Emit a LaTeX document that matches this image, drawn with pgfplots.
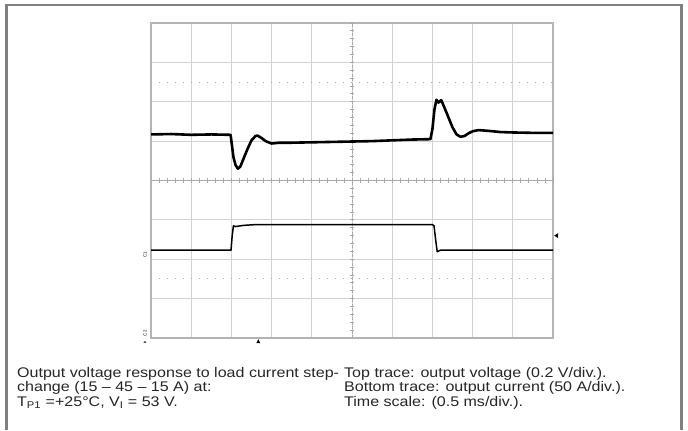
\documentclass[border=0pt]{standalone}
\usepackage{pgfplots}
\pgfplotsset{compat=1.18}
\usepackage{fontspec}
\setmainfont{Liberation Sans}
\newfontfamily\capfont[FakeStretch=1.15]{Liberation Sans}

\definecolor{framec}{HTML}{808080}
\definecolor{gridc}{HTML}{D2D2D2}
\definecolor{axisc}{HTML}{B4B4B4}
\definecolor{centc}{HTML}{A8A8A8}

% scope screenshot, in divisions: 10 x 8
\pgfplotstableread{
x y
0.00 5.17
0.50 5.18
1.00 5.16
1.50 5.17
1.98 5.16
2.00 5.00
2.05 4.60
2.10 4.40
2.16 4.30
2.22 4.35
2.30 4.55
2.40 4.80
2.50 5.02
2.60 5.13
2.65 5.14
2.75 5.08
2.85 5.00
3.00 4.94
3.20 4.96
3.50 4.96
4.00 4.97
4.50 4.98
5.00 4.99
5.50 5.00
6.00 5.02
6.50 5.04
6.95 5.05
7.00 5.30
7.05 5.80
7.10 6.05
7.15 5.98
7.22 6.04
7.30 5.85
7.40 5.60
7.50 5.35
7.60 5.17
7.70 5.11
7.80 5.13
7.90 5.20
8.00 5.25
8.15 5.28
8.40 5.26
8.70 5.23
9.00 5.22
9.50 5.21
10.00 5.21
}\voltage

\pgfplotstableread{
x y
0.00 2.23
1.99 2.23
2.02 2.60
2.05 2.85
2.10 2.83
2.30 2.86
2.60 2.88
5.00 2.88
7.00 2.88
7.04 2.85
7.08 2.50
7.12 2.19
7.20 2.23
10.00 2.23
}\current

\begin{document}
\begin{tikzpicture}[x=1bp,y=1bp]
\useasboundingbox (0,0) rectangle (688,430);
\fill[white] (0,0) rectangle (688,430);
\draw[framec, line width=2.5bp] (6.5,0) -- (6.5,425) -- (681.5,425) -- (681.5,0);

\begin{axis}[
  at={(151bp,92bp)}, anchor=origin,
  scale only axis, width=402bp, height=315bp,
  xmin=0, xmax=10, ymin=0, ymax=8,
  xtick={0,...,10}, ytick={0,...,8},
  xticklabels={}, yticklabels={},
  major tick length=0,
  grid=major, major grid style={gridc, line width=0.8bp},
  axis line style={axisc, line width=1.3bp},
  clip=false,
]
% 20/80 % markers and centre graticule
\draw[gridc!80!black, line width=0.9bp, dash pattern=on 1bp off 7bp] (axis cs:0.2,1.5) -- (axis cs:10,1.5);
\draw[gridc!80!black, line width=0.9bp, dash pattern=on 1bp off 7bp] (axis cs:0.2,6.5) -- (axis cs:10,6.5);
\draw[centc, line width=0.8bp] (axis cs:0,4) -- (axis cs:10,4);
\draw[centc, line width=0.8bp, dash pattern=on 3bp off 1.5bp] (axis cs:5,0) -- (axis cs:5,8);
\pgfplotsinvokeforeach{0.2,0.4,...,9.9}{
  \draw[centc, line width=0.8bp] (axis cs:#1,3.94) -- (axis cs:#1,4.06);
}
\pgfplotsinvokeforeach{0.2,0.4,...,7.9}{
  \draw[centc, line width=0.8bp] (axis cs:4.94,#1) -- (axis cs:5.06,#1);
}

\addplot[black, line width=2.6bp, line join=round] table[x=x, y=y] {\voltage};
\addplot[black, line width=1.5bp, line join=round] table[x=x, y=y] {\current};

% channel and trigger markers
\node[rotate=90, font=\fontsize{4.5}{5}\selectfont, inner sep=0pt] at (axis cs:-0.15,2.12) {C1};
\node[rotate=90, font=\fontsize{4.5}{5}\selectfont, inner sep=0pt] at (axis cs:-0.15,0.12) {C2};
\fill[black] (axis cs:-0.15,-0.08) -- ++(-1.5bp,-1.5bp) -- ++(3bp,0) -- cycle;
\fill[black] (axis cs:10.03,2.6) -- ++(4bp,2.5bp) -- ++(0,-5bp) -- cycle;
\fill[black] (axis cs:2.67,-0.03) -- ++(-2bp,-4bp) -- ++(4bp,0) -- cycle;
\end{axis}

\begin{scope}[every node/.style={anchor=base west, inner sep=0pt, text=black!85, font=\capfont\fontsize{14}{14}\selectfont}]
\node at (17,53) {Output voltage response to load current step-};
\node at (17,38.5) {change (15 – 45 – 15 A) at:};
\node at (17,24) {T\textsubscript{P1} =+25°C, V\textsubscript{I} = 53 V.};
\node at (344,53) {Top trace: output voltage (0.2 V/div.).};
\node at (344,38.5) {Bottom trace: output current (50 A/div.).};
\node at (344,24) {Time scale: (0.5 ms/div.).};
\end{scope}
\end{tikzpicture}
\end{document}
